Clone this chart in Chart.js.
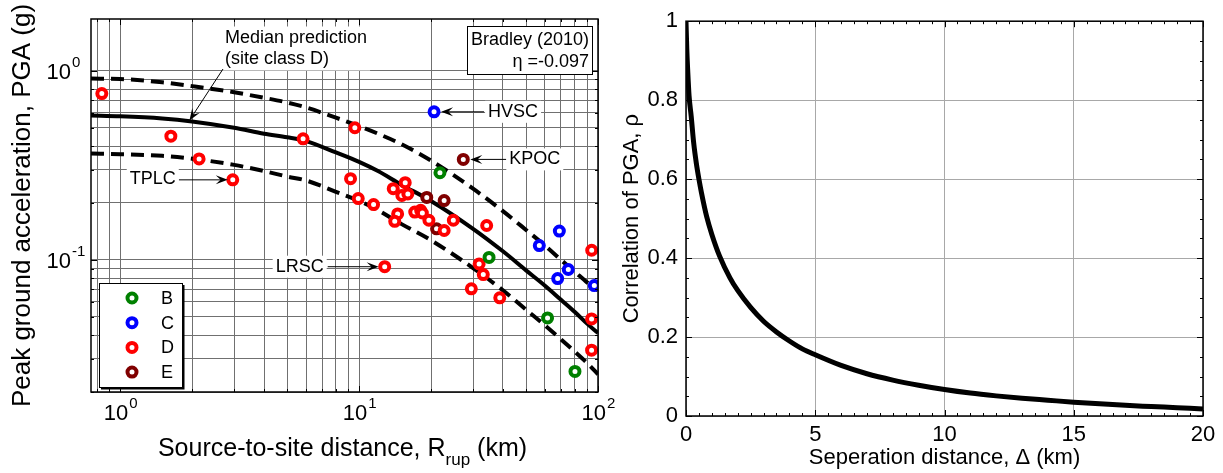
<!DOCTYPE html>
<html>
<head>
<meta charset="utf-8">
<script src="https://cdn.jsdelivr.net/npm/chart.js@4.4.0/dist/chart.umd.min.js"></script>
<style>
  body { margin: 0; background: #fff; }
  #wrap { position: relative; width: 1223px; height: 473px; }
  canvas { position: absolute; top: 0; }
</style>
</head>
<body>
<div id="wrap">
  <canvas id="pgaChart" width="625" height="473" style="left:0"></canvas>
  <canvas id="corrChart" width="613" height="473" style="left:610px"></canvas>
</div>
<script>
// ---- left panel: Bradley (2010) prediction vs. observed PGA ----
const distR = [0.755, 1, 1.5, 2, 3, 4, 5, 6, 8, 10, 12, 15, 20, 30, 40, 50, 60, 70, 80, 90, 100];
const pgaMedian = [0.58, 0.575, 0.56, 0.54, 0.50, 0.465, 0.445, 0.425, 0.37, 0.33, 0.295, 0.25, 0.205, 0.146, 0.111, 0.088, 0.073, 0.0615, 0.053, 0.046, 0.041];
const pgaPlusSigma = [0.91, 0.905, 0.87, 0.83, 0.77, 0.72, 0.68, 0.64, 0.565, 0.51, 0.465, 0.41, 0.335, 0.238, 0.181, 0.144, 0.119, 0.1, 0.0865, 0.076, 0.069];
const pgaMinusSigma = [0.365, 0.362, 0.355, 0.343, 0.318, 0.295, 0.276, 0.263, 0.229, 0.205, 0.183, 0.155, 0.127, 0.0905, 0.069, 0.0545, 0.045, 0.038, 0.0327, 0.0285, 0.0248];

const siteB_R = [21.8, 35.0, 61.5, 80.1];
const siteB_PGA = [0.289, 0.103, 0.0493, 0.0257];
const siteC_R = [20.6, 56.8, 68.9, 75.1, 67.8, 96.5];
const siteC_PGA = [0.607, 0.119, 0.142, 0.0889, 0.0796, 0.0731];
const siteD_R = [0.838, 1.63, 2.14, 2.96, 5.83, 9.6, 9.21, 9.92, 11.5, 13.9, 15.6, 15.1, 16.0, 14.5, 14.1,
                 17.1, 18.1, 18.4, 19.6, 22.7, 24.8, 34.2, 31.8, 33.1, 29.5, 38.8, 12.8, 94.1, 94.0, 94.0];
const siteD_PGA = [0.758, 0.451, 0.342, 0.265, 0.437, 0.50, 0.269, 0.211, 0.196, 0.238, 0.256, 0.219, 0.223, 0.175, 0.160,
                   0.179, 0.183, 0.177, 0.162, 0.143, 0.162, 0.152, 0.0952, 0.0836, 0.0703, 0.063, 0.092, 0.1124, 0.0487, 0.0333];
const siteE_R = [19.2, 22.7, 21.1, 27.3];
const siteE_PGA = [0.214, 0.206, 0.146, 0.34];

const siteClasses = ['B', 'C', 'D', 'E'];
const siteColors = ['#008000', '#0000ff', '#ff0000', '#800000'];

const xTickValues = [0.8, 0.9, 1, 2, 3, 4, 5, 6, 7, 8, 9, 10, 20, 30, 40, 50, 60, 70, 80, 90, 100];
const yTickValues = [0.02, 0.03, 0.04, 0.05, 0.06, 0.07, 0.08, 0.09, 0.1, 0.2, 0.3, 0.4, 0.5, 0.6, 0.7, 0.8, 0.9, 1];
const xDecades = [1, 10, 100];
const yDecades = [0.1, 1];

// ---- right panel: spatial correlation of PGA ----
const sepDist = [0, 0.03, 0.07, 0.12, 0.2, 0.3, 0.4, 0.5, 0.6, 0.8, 1.0, 1.3, 1.7, 2.0, 2.5, 3.0, 3.5, 4.0, 4.5, 5,
                 6, 7, 8, 9, 10, 11, 12, 13, 14, 15, 16, 17, 18, 19, 20];
const rhoPGA = [1, 0.93, 0.87, 0.81, 0.76, 0.69, 0.64, 0.60, 0.565, 0.505, 0.46, 0.405, 0.35, 0.318, 0.275, 0.24, 0.213, 0.19, 0.17, 0.155,
                0.128, 0.107, 0.091, 0.078, 0.067, 0.058, 0.051, 0.045, 0.04, 0.035, 0.031, 0.027, 0.024, 0.021, 0.018];

const FONT = "'Liberation Sans', Arial, sans-serif";
const pts = (xs, ys) => xs.map((v, i) => ({x: v, y: ys[i]}));

function textBox(ctx, lines, x, y, align, lh) {
  ctx.font = '18px ' + FONT;
  const w = Math.max(...lines.map(l => ctx.measureText(l).width));
  const left = align === 'right' ? x - w : x;
  ctx.fillStyle = '#fff';
  ctx.fillRect(left - 3, y - lh / 2 - 1, w + 6, lh * lines.length + 2);
  ctx.fillStyle = '#000';
  ctx.textAlign = align;
  ctx.textBaseline = 'middle';
  lines.forEach((l, i) => ctx.fillText(l, x, y + i * lh));
}

function arrow(ctx, x1, y1, x2, y2) {
  const ang = Math.atan2(y2 - y1, x2 - x1);
  ctx.strokeStyle = '#000';
  ctx.lineWidth = 1;
  ctx.beginPath();
  ctx.moveTo(x1, y1);
  ctx.lineTo(x2 - 6 * Math.cos(ang), y2 - 6 * Math.sin(ang));
  ctx.stroke();
  const L = 12, W = 4.5;
  ctx.fillStyle = '#000';
  ctx.beginPath();
  ctx.moveTo(x2, y2);
  ctx.lineTo(x2 - L * Math.cos(ang) + W * Math.sin(ang), y2 - L * Math.sin(ang) - W * Math.cos(ang));
  ctx.lineTo(x2 - 0.6 * L * Math.cos(ang), y2 - 0.6 * L * Math.sin(ang));
  ctx.lineTo(x2 - L * Math.cos(ang) - W * Math.sin(ang), y2 - L * Math.sin(ang) + W * Math.cos(ang));
  ctx.closePath();
  ctx.fill();
}

function ring(ctx, x, y, color) {
  ctx.beginPath();
  ctx.arc(x, y, 4.5, 0, Math.PI * 2);
  ctx.fillStyle = '#fff';
  ctx.fill();
  ctx.lineWidth = 4;
  ctx.strokeStyle = color;
  ctx.stroke();
}

function powLabel(ctx, exp, x, y, mode) {
  ctx.textBaseline = 'middle';
  ctx.fillStyle = '#000';
  ctx.font = '22px ' + FONT;
  const w1 = ctx.measureText('10').width;
  ctx.font = '15px ' + FONT;
  const w2 = ctx.measureText(exp).width;
  let start = mode === 'center' ? x - (w1 + w2) / 2 : x - w1;
  ctx.textAlign = 'left';
  ctx.font = '22px ' + FONT;
  ctx.fillText('10', start, y);
  ctx.font = '15px ' + FONT;
  ctx.fillText(exp, start + w1 + 1, y - 10);
}

function inwardTicks(ctx, a, xs, ys, vals, isMajorX, isMajorY) {
  ctx.strokeStyle = '#000';
  ctx.lineWidth = 1;
  ctx.beginPath();
  vals.x.forEach(v => {
    const p = Math.round(xs.getPixelForValue(v)) + 0.5, len = isMajorX(v) ? 6 : 3;
    ctx.moveTo(p, a.bottom); ctx.lineTo(p, a.bottom - len);
    ctx.moveTo(p, a.top); ctx.lineTo(p, a.top + len);
  });
  vals.y.forEach(v => {
    const p = Math.round(ys.getPixelForValue(v)) + 0.5, len = isMajorY(v) ? 6 : 3;
    ctx.moveTo(a.left, p); ctx.lineTo(a.left + len, p);
    ctx.moveTo(a.right, p); ctx.lineTo(a.right - len, p);
  });
  ctx.stroke();
}

const pgaDecor = {
  id: 'pgaDecor',
  afterDatasetsDraw(chart) {
    const {ctx, chartArea: a, scales: {x, y}} = chart;
    ctx.save();
    inwardTicks(ctx, a, x, y, {x: xTickValues, y: yTickValues},
      v => xDecades.includes(v), v => yDecades.includes(v));
    ctx.strokeStyle = '#000';
    ctx.lineWidth = 1.5;
    ctx.strokeRect(a.left, a.top, a.right - a.left, a.bottom - a.top);

    // tick labels
    xDecades.forEach(v => powLabel(ctx, String(Math.round(Math.log10(v))), x.getPixelForValue(v), a.bottom + 22, 'center'));
    yDecades.forEach(v => powLabel(ctx, String(Math.round(Math.log10(v))), 71, y.getPixelForValue(v) + 2, 'right'));

    // x title with subscript
    const cx = (a.left + a.right) / 2 - 2, by = 456;
    ctx.font = '25px ' + FONT;
    const t1 = 'Source-to-site distance, R', t3 = ' (km)';
    const w1 = ctx.measureText(t1).width, w3 = ctx.measureText(t3).width;
    ctx.font = '17px ' + FONT;
    const w2 = ctx.measureText('rup').width;
    let sx = cx - (w1 + w2 + w3) / 2;
    ctx.textAlign = 'left'; ctx.textBaseline = 'alphabetic'; ctx.fillStyle = '#000';
    ctx.font = '25px ' + FONT; ctx.fillText(t1, sx, by);
    ctx.font = '17px ' + FONT; ctx.fillText('rup', sx + w1, by + 9);
    ctx.font = '25px ' + FONT; ctx.fillText(t3, sx + w1 + w2, by);

    // median prediction annotation
    textBox(ctx, ['Median prediction', '(site class D)'], 225, 38, 'left', 21);
    arrow(ctx, 223, 69, x.getPixelForValue(1.95), y.getPixelForValue(0.54) - 1);

    // model box
    ctx.fillStyle = '#fff';
    ctx.fillRect(467, 26, 125, 48);
    ctx.strokeStyle = '#000'; ctx.lineWidth = 1;
    ctx.strokeRect(467.5, 26.5, 125, 48);
    ctx.font = '18px ' + FONT; ctx.fillStyle = '#000';
    ctx.textAlign = 'right'; ctx.textBaseline = 'middle';
    ctx.fillText('Bradley (2010)', 589, 40);
    ctx.fillText('\u03B7 =-0.097', 589, 62);

    // station labels
    const stn = (R, P) => ({px: x.getPixelForValue(R), py: y.getPixelForValue(P)});
    let s = stn(siteC_R[0], siteC_PGA[0]);
    arrow(ctx, s.px + 50, s.py, s.px + 7, s.py);
    textBox(ctx, ['HVSC'], s.px + 54, s.py, 'left', 20);
    s = stn(siteE_R[3], siteE_PGA[3]);
    arrow(ctx, s.px + 43, s.py, s.px + 7, s.py);
    textBox(ctx, ['KPOC'], s.px + 46, s.py, 'left', 20);
    s = stn(siteD_R[3], siteD_PGA[3]);
    arrow(ctx, s.px - 54, s.py, s.px - 5, s.py);
    textBox(ctx, ['TPLC'], s.px - 57, s.py - 1, 'right', 20);
    s = stn(siteD_R[26], siteD_PGA[26]);
    arrow(ctx, s.px - 57, s.py, s.px - 6, s.py);
    textBox(ctx, ['LRSC'], s.px - 61, s.py, 'right', 20);

    // legend
    const lx = a.left + 8, ly = 283, lw = 83, lhgt = 104;
    ctx.fillStyle = '#fff';
    ctx.fillRect(lx, ly, lw, lhgt);
    ctx.strokeStyle = '#000'; ctx.lineWidth = 1;
    ctx.strokeRect(lx + 0.5, ly + 0.5, lw, lhgt);
    ctx.lineWidth = 2;
    ctx.beginPath();
    ctx.moveTo(lx + lw + 1.5, ly + 2); ctx.lineTo(lx + lw + 1.5, ly + lhgt + 1.5); ctx.lineTo(lx + 2, ly + lhgt + 1.5);
    ctx.stroke();
    siteClasses.forEach((c, i) => {
      const ry = ly + 15 + i * 24.7;
      ring(ctx, lx + 33, ry, siteColors[i]);
      ctx.fillStyle = '#000'; ctx.font = '18px ' + FONT;
      ctx.textAlign = 'left'; ctx.textBaseline = 'middle';
      ctx.fillText(c, lx + 62, ry + 1);
    });
    ctx.restore();
  }
};

const ringStyle = color => ({
  pointRadius: 4.5, pointBorderWidth: 4, pointBackgroundColor: '#fff',
  pointBorderColor: color, pointHoverRadius: 4.5, showLine: false, order: 0
});
const curveStyle = dash => ({
  showLine: true, pointRadius: 0, borderColor: '#000', borderWidth: 4,
  borderDash: dash, cubicInterpolationMode: 'monotone', order: 1
});

new Chart(document.getElementById('pgaChart'), {
  type: 'scatter',
  data: {
    datasets: [
      {label: 'B', data: pts(siteB_R, siteB_PGA), ...ringStyle(siteColors[0])},
      {label: 'C', data: pts(siteC_R, siteC_PGA), ...ringStyle(siteColors[1])},
      {label: 'D', data: pts(siteD_R, siteD_PGA), ...ringStyle(siteColors[2])},
      {label: 'E', data: pts(siteE_R, siteE_PGA), ...ringStyle(siteColors[3])},
      {label: 'median', data: pts(distR, pgaMedian), ...curveStyle([])},
      {label: '+sigma', data: pts(distR, pgaPlusSigma), ...curveStyle([13, 7])},
      {label: '-sigma', data: pts(distR, pgaMinusSigma), ...curveStyle([13, 7])}
    ]
  },
  options: {
    responsive: false,
    animation: false,
    layout: {padding: {top: 19, right: 27, left: 0, bottom: 0}},
    plugins: {legend: {display: false}, tooltip: {enabled: false}},
    scales: {
      x: {
        type: 'logarithmic', min: 0.755, max: 100,
        afterBuildTicks: s => { s.ticks = xTickValues.map(v => ({value: v})); },
        ticks: {display: false, autoSkip: false},
        grid: {color: '#707070', lineWidth: 1, drawTicks: false},
        border: {display: false},
        afterFit: s => { s.height = 81; }
      },
      y: {
        type: 'logarithmic', min: 0.02, max: 1.88,
        afterBuildTicks: s => { s.ticks = yTickValues.map(v => ({value: v})); },
        ticks: {display: false, autoSkip: false},
        grid: {color: '#707070', lineWidth: 1, drawTicks: false},
        border: {display: false},
        title: {display: true, text: 'Peak ground acceleration, PGA (g)', color: '#000',
                font: {family: FONT, size: 26, lineHeight: 1.2}, padding: {top: 7, bottom: 0}},
        afterFit: s => { s.width = 91; }
      }
    }
  },
  plugins: [pgaDecor]
});

const corrDecor = {
  id: 'corrDecor',
  afterDatasetsDraw(chart) {
    const {ctx, chartArea: a, scales: {x, y}} = chart;
    const xs = [], ys = [];
    for (let v = 0; v <= 20; v += 0.5) xs.push(v);
    for (let v = 0; v <= 1.0001; v += 0.05) ys.push(+v.toFixed(2));
    ctx.save();
    inwardTicks(ctx, a, x, y, {x: xs, y: ys}, v => v % 5 === 0, v => Math.abs(v * 5 - Math.round(v * 5)) < 1e-6);
    ctx.strokeStyle = '#000';
    ctx.lineWidth = 1.5;
    ctx.strokeRect(a.left, a.top, a.right - a.left, a.bottom - a.top);
    ctx.restore();
  }
};

new Chart(document.getElementById('corrChart'), {
  type: 'scatter',
  data: {
    datasets: [{
      data: pts(sepDist, rhoPGA), showLine: true, pointRadius: 0,
      borderColor: '#000', borderWidth: 5, cubicInterpolationMode: 'monotone'
    }]
  },
  options: {
    responsive: false,
    animation: false,
    layout: {padding: {top: 16, right: 20, left: 0, bottom: 0}},
    plugins: {legend: {display: false}, tooltip: {enabled: false}},
    scales: {
      x: {
        type: 'linear', min: 0, max: 20,
        ticks: {stepSize: 5, color: '#000', font: {family: FONT, size: 22}, padding: 6},
        grid: {color: '#a8a8a8', lineWidth: 1, drawTicks: false},
        border: {display: false},
        title: {display: true, text: 'Seperation distance, \u0394 (km)', color: '#000',
                font: {family: FONT, size: 22, lineHeight: 1.2}, padding: {top: 0, bottom: 2}},
        afterFit: s => { s.height = 57; }
      },
      y: {
        type: 'linear', min: 0, max: 1,
        ticks: {stepSize: 0.2, color: '#000', font: {family: FONT, size: 22}, padding: 8,
                callback: v => String(Number(v.toFixed(1)))},
        grid: {color: '#a8a8a8', lineWidth: 1, drawTicks: false},
        border: {display: false},
        title: {display: true, text: 'Correlation of PGA, \u03C1', color: '#000',
                font: {family: FONT, size: 22, lineHeight: 1.2}, padding: {top: 9, bottom: 0}},
        afterFit: s => { s.width = 76; }
      }
    }
  },
  plugins: [corrDecor]
});
</script>
</body>
</html>
